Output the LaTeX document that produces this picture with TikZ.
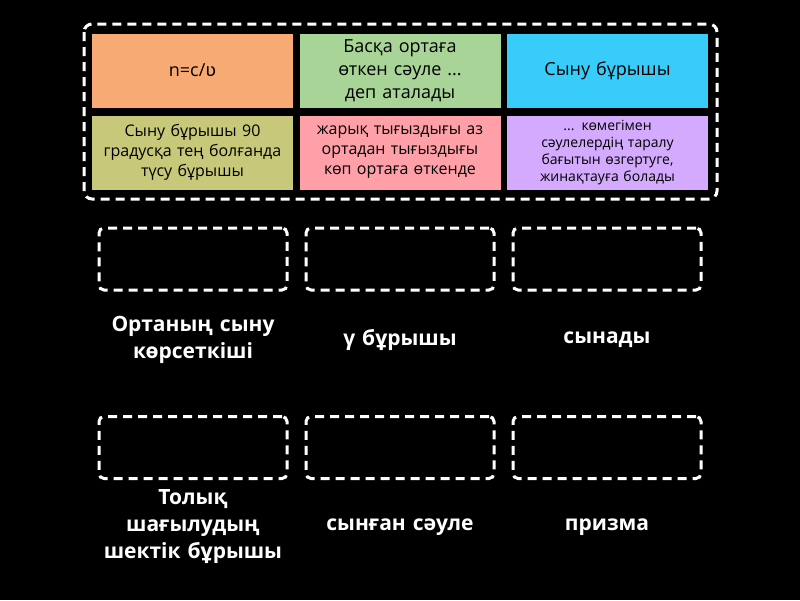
\documentclass[tikz,border=0pt]{standalone}
\usepackage{fontspec}
\setmainfont{Open Sans}
\newfontfamily\symfont{DejaVu Sans}
\usetikzlibrary{positioning}
\definecolor{cOrange}{RGB}{247,170,115}
\definecolor{cGreen}{RGB}{168,212,152}
\definecolor{cCyan}{RGB}{56,204,250}
\definecolor{cOlive}{RGB}{200,200,122}
\definecolor{cPink}{RGB}{255,160,168}
\definecolor{cLilac}{RGB}{212,170,255}
\tikzset{
	card/.style={minimum width=201pt, minimum height=74pt, text width=199pt, align=center, inner sep=1pt, text=black},
	slot/.style={draw=white, line width=3pt, dash pattern=on 9pt off 6pt, rounded corners=5pt, minimum width=188pt, minimum height=62pt},
	word/.style={text=white, font=\bfseries\fontsize{21}{27}\selectfont, align=center, text width=200pt}
}
\begin{document}
\begin{tikzpicture}[x=1pt, y=-1pt]
	\fill[black] (0, 0) rectangle (800, 600);
	\useasboundingbox (0, 0) rectangle (800, 600);

	\draw[white, line width=3pt, dash pattern=on 9pt off 6pt, rounded corners=8pt] (84, 24) rectangle (717, 199);

	% Cards
	\node[card, fill=cOrange, font=\fontsize{18}{23}\selectfont] (nc) at (192.5, 70.5) {n=c/{\symfont ʋ}};
	\node[card, fill=cGreen, font=\fontsize{18}{23}\selectfont] (ortaga) at (400, 70.5) {Басқа ортаға\\өткен сәуле ...\\деп аталады};
	\node[card, fill=cCyan, font=\fontsize{18}{23}\selectfont] (synu) at (607.5, 70.5) {Сыну бұрышы};
	\node[card, fill=cOlive, font=\fontsize{16}{20}\selectfont] (ninety) at (192.5, 152.5) {Сыну бұрышы 90\\градусқа тең болғанда\\түсу бұрышы};
	\node[card, fill=cPink, font=\fontsize{16}{20}\selectfont] (zharyk) at (400, 152.5) {жарық тығыздығы аз\\ортадан тығыздығы\\көп ортаға өткенде};
	\node[card, fill=cLilac, font=\fontsize{14}{17}\selectfont] (komegi) at (607.5, 152.5) {... көмегімен\\сәулелердің таралу\\бағытын өзгертуге,\\жинақтауға болады};

	% Slots
	\node[slot] (s1) at (193, 259) {};
	\node[slot] (s2) at (400, 259) {};
	\node[slot] (s3) at (607, 259) {};
	\node[slot] (s4) at (193, 447.5) {};
	\node[slot] (s5) at (400, 447.5) {};
	\node[slot] (s6) at (607, 447.5) {};

	% Labels
	\node[word] (w1) at (193, 340) {Ортаның сыну\\көрсеткіші};
	\node[word] (w2) at (400, 340) {γ бұрышы};
	\node[word] (w3) at (607, 340) {сынады};
	\node[word] (w4) at (193, 527) {Толық\\шағылудың\\шектік бұрышы};
	\node[word] (w5) at (400, 527) {сынған сәуле};
	\node[word] (w6) at (607, 527) {призма};
\end{tikzpicture}
\end{document}
